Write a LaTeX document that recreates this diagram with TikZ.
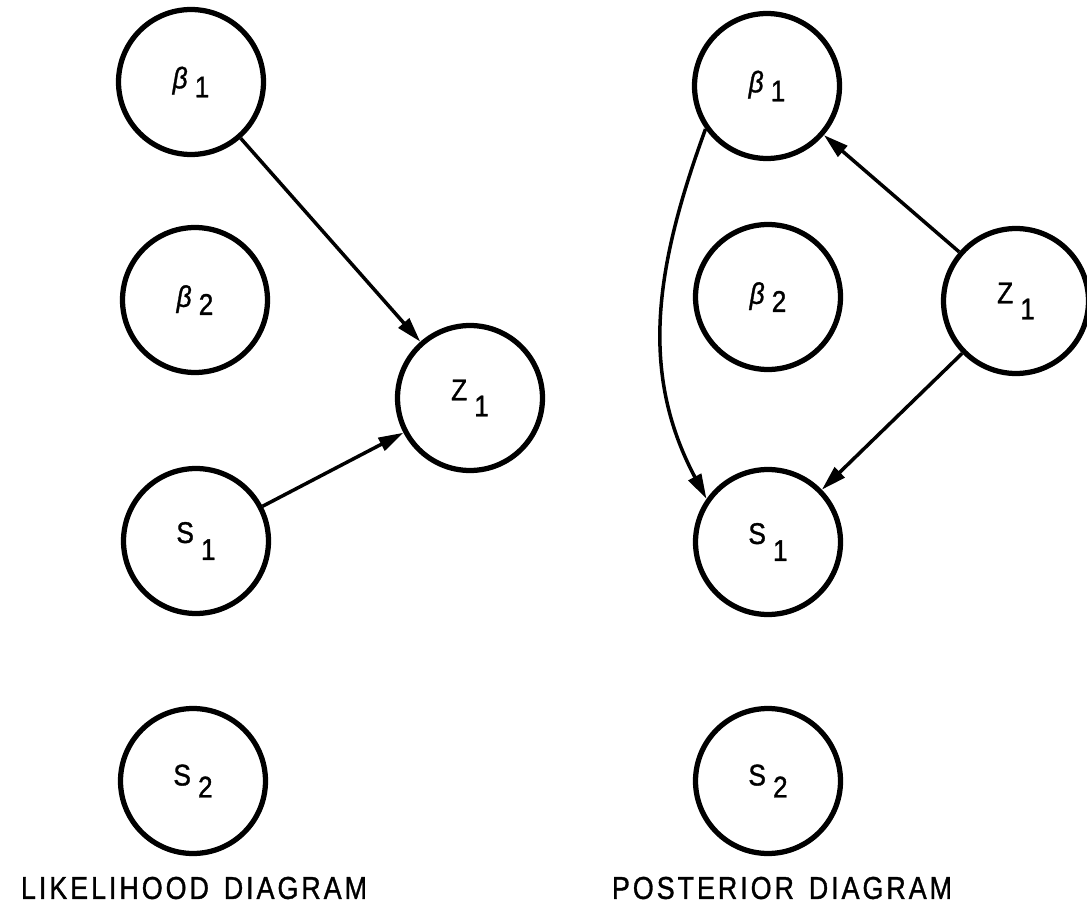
\documentclass[tikz,border=0pt]{standalone}
\usepackage{fontspec}
\setmainfont{Liberation Sans}
\newfontfamily\labfont[FakeBold=1.2]{Liberation Sans}
\newfontfamily\capfont[FakeBold=1.2,LetterSpace=11]{Liberation Sans}
\usetikzlibrary{arrows.meta}

% variable label: main symbol, subscript, drop of the subscript
\newcommand{\sublab}[3]{\scalebox{0.88}[1]{#1\hspace{0.16cm}\raisebox{-#3}{#2}}}
\newcommand{\captext}[2]{\scalebox{0.85}[1]{#1\hspace{0.35cm}#2}}

\begin{document}
\begin{tikzpicture}[x=0.02cm,y=-0.02cm,
  var/.style={circle,draw,line width=0.105cm,minimum size=2.9cm,inner sep=0pt,
    font=\fontsize{17}{20}\labfont},
  link/.style={line width=0.07cm,-{Triangle[length=0.5cm,width=0.28cm]}},
  caption/.style={font=\fontsize{18}{21}\capfont}]
\useasboundingbox (0,0) rectangle (1087,908);

% likelihood diagram
\node[var] (lb1) at (191,82)  {\sublab{\textit{β}}{1}{0.18cm}};
\node[var] (lb2) at (195,300) {\sublab{\textit{β}}{2}{0.16cm}};
\node[var] (lz1) at (470,398) {\sublab{Z}{1}{0.32cm}};
\node[var] (ls1) at (196,541) {\sublab{S}{1}{0.34cm}};
\node[var] (ls2) at (193,781) {\sublab{S}{2}{0.24cm}};

\draw[link] (lb1) -- (lz1);
\draw[link] (ls1) -- (lz1);

\node[caption] (lcap) at (194,888) {\captext{LIKELIHOOD}{DIAGRAM}};

% posterior diagram
\node[var] (rb1) at (767,86)   {\sublab{\textit{β}}{1}{0.18cm}};
\node[var] (rb2) at (768,297)  {\sublab{\textit{β}}{2}{0.16cm}};
\node[var] (rz1) at (1016,301) {\sublab{Z}{1}{0.32cm}};
\node[var] (rs1) at (768,542)  {\sublab{S}{1}{0.34cm}};
\node[var] (rs2) at (768,781)  {\sublab{S}{2}{0.24cm}};

\draw[link] (rz1) -- (rb1);
\draw[link] (rz1) -- (rs1);
\draw[link] (rb1.215) to[out=250,in=118] (rs1.145);

\node[caption] (rcap) at (782,888) {\captext{POSTERIOR}{DIAGRAM}};
\end{tikzpicture}
\end{document}
